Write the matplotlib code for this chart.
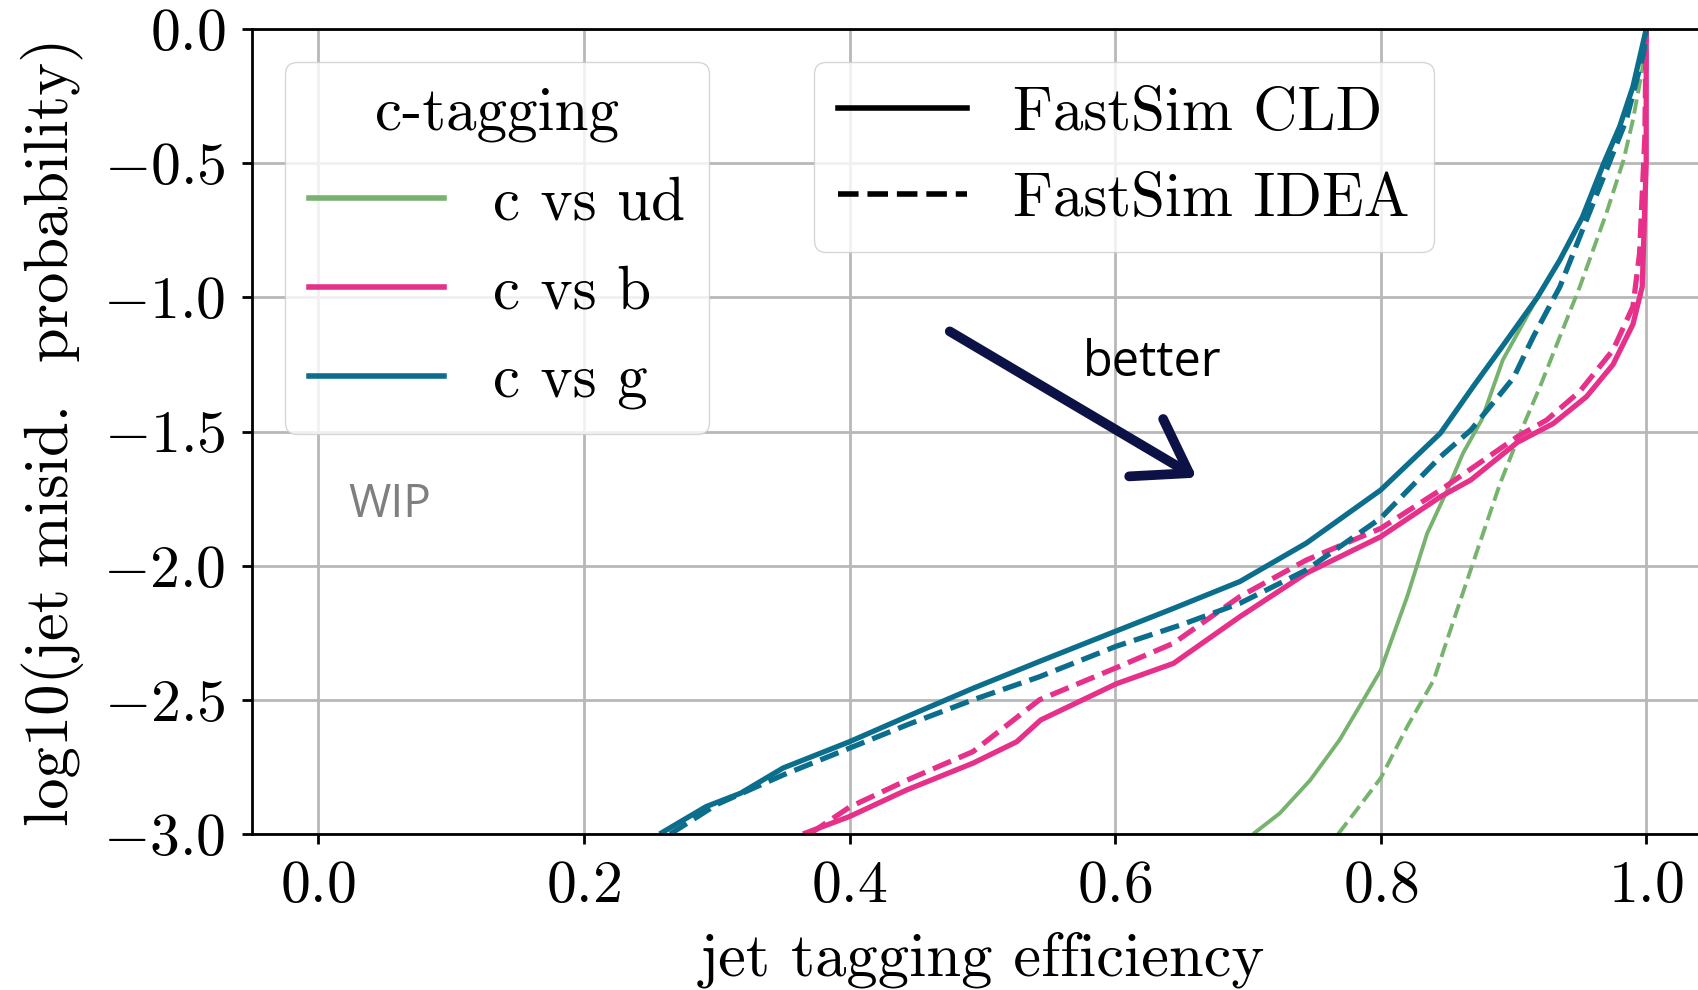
import matplotlib
matplotlib.use("Agg")
from matplotlib import pyplot as plt
from matplotlib.lines import Line2D

plt.rcParams["font.family"] = "serif"
plt.rcParams["font.serif"] = ["cmr10"]
plt.rcParams["mathtext.fontset"] = "cm"
plt.rcParams["axes.formatter.use_mathtext"] = True
plt.rcParams["axes.unicode_minus"] = True

# ROC curves: efficiency vs log10(misid), CLD (solid) and IDEA (dashed)
ud_cld_eff = [0.704, 0.724, 0.747, 0.769, 0.787, 0.800, 0.820, 0.835, 0.850, 0.862, 0.876, 0.892, 0.918, 0.935, 0.952, 0.968, 0.980, 0.990, 1.0]
ud_cld_mis = [-3.0, -2.923, -2.799, -2.65, -2.5, -2.39, -2.115, -1.88, -1.72, -1.581, -1.457, -1.233, -1.0, -0.86, -0.70, -0.50, -0.36, -0.22, 0.0]
ud_idea_eff = [0.768, 0.782, 0.800, 0.820, 0.840, 0.855, 0.872, 0.890, 0.905, 0.920, 0.935, 0.950, 0.970, 0.983, 0.990, 0.997, 1.0]
ud_idea_mis = [-3.0, -2.91, -2.792, -2.60, -2.426, -2.203, -1.954, -1.693, -1.506, -1.333, -1.146, -0.96, -0.686, -0.487, -0.338, -0.152, 0.0]

b_cld_eff = [0.365, 0.400, 0.443, 0.493, 0.526, 0.544, 0.601, 0.644, 0.694, 0.744, 0.800, 0.845, 0.868, 0.903, 0.930, 0.955, 0.975, 0.990, 0.997, 1.0, 1.0]
b_cld_mis = [-3.0, -2.935, -2.836, -2.736, -2.656, -2.575, -2.44, -2.364, -2.19, -2.028, -1.892, -1.743, -1.680, -1.54, -1.47, -1.37, -1.25, -1.10, -0.96, -0.5, 0.0]
b_idea_eff = [0.370, 0.400, 0.443, 0.493, 0.543, 0.601, 0.644, 0.694, 0.744, 0.800, 0.845, 0.903, 0.925, 0.950, 0.975, 0.990, 0.995, 0.999, 1.0]
b_idea_mis = [-3.0, -2.90, -2.80, -2.693, -2.50, -2.38, -2.289, -2.115, -1.979, -1.861, -1.718, -1.519, -1.457, -1.35, -1.196, -1.034, -0.836, -0.4, 0.0]

g_cld_eff = [0.257, 0.292, 0.318, 0.350, 0.400, 0.443, 0.493, 0.544, 0.601, 0.644, 0.694, 0.744, 0.800, 0.845, 0.870, 0.892, 0.918, 0.935, 0.952, 0.968, 0.980, 0.990, 1.0]
g_cld_mis = [-3.0, -2.898, -2.848, -2.754, -2.656, -2.563, -2.457, -2.355, -2.243, -2.159, -2.059, -1.916, -1.718, -1.506, -1.33, -1.18, -1.0, -0.86, -0.70, -0.50, -0.363, -0.214, 0.0]
g_idea_eff = [0.265, 0.300, 0.350, 0.400, 0.445, 0.493, 0.543, 0.601, 0.650, 0.694, 0.744, 0.800, 0.845, 0.868, 0.900, 0.915, 0.935, 0.953, 0.970, 0.985, 0.998, 1.0]
g_idea_mis = [-3.0, -2.89, -2.78, -2.68, -2.59, -2.50, -2.414, -2.30, -2.22, -2.14, -2.016, -1.823, -1.594, -1.494, -1.30, -1.146, -0.96, -0.736, -0.525, -0.338, -0.09, 0.0]

labels = ["c vs ud", "c vs b", "c vs g"]
colors = ["#77b36f", "#e6308a", "#0b6e8c"]
widths = [2.8, 3.8, 3.8]
curves = [
    (ud_cld_eff, ud_cld_mis, ud_idea_eff, ud_idea_mis),
    (b_cld_eff, b_cld_mis, b_idea_eff, b_idea_mis),
    (g_cld_eff, g_cld_mis, g_idea_eff, g_idea_mis),
]

fig = plt.figure(figsize=(16.98, 9.9), dpi=100)
ax = fig.add_axes([0.1484, 0.1576, 0.8602, 0.8129])

for (xc, yc, xi, yi), c, lw in zip(curves, colors, widths):
    ax.plot(xc, yc, color=c, lw=lw, solid_capstyle="butt")
    ax.plot(xi, yi, color=c, lw=lw, ls="--")

ax.set_xlim(-0.05, 1.05)
ax.set_ylim(-3.0, 0.0)
ax.set_xticks([0.0, 0.2, 0.4, 0.6, 0.8, 1.0])
ax.set_yticks([0.0, -0.5, -1.0, -1.5, -2.0, -2.5, -3.0])
ax.grid(True, color="#b8b8b8", lw=2)
ax.set_axisbelow(True)
for s in ax.spines.values():
    s.set_linewidth(2)
ax.tick_params(labelsize=43, length=7, width=2, pad=12)

ax.set_xlabel("jet tagging efficiency", fontsize=45)
ax.xaxis.set_label_coords(0.5, -0.121)
ax.set_ylabel("log10(jet misid.  probability)", fontsize=45, labelpad=14)

leg1_handles = [Line2D([], [], color=c, lw=4) for c in colors]
leg1 = ax.legend(leg1_handles, labels, title="c-tagging", fontsize=44, title_fontsize=44,
                 loc="upper left", bbox_to_anchor=(0.1678, 0.9374), bbox_transform=fig.transFigure,
                 borderaxespad=0, handlelength=2.2, handletextpad=0.8, labelspacing=0.55,
                 edgecolor="#cccccc", framealpha=0.8)
ax.add_artist(leg1)

leg2_handles = [Line2D([], [], color="black", lw=4),
                Line2D([], [], color="black", lw=4, ls="--")]
ax.legend(leg2_handles, ["FastSim CLD", "FastSim IDEA"], fontsize=44,
          loc="upper left", bbox_to_anchor=(0.4794, 0.9374), bbox_transform=fig.transFigure,
          borderaxespad=0, handlelength=2.1, handletextpad=0.75, labelspacing=0.5,
          edgecolor="#cccccc", framealpha=0.8)

ax.annotate("", xy=(0.6615, -1.6716), xytext=(0.4755, -1.1265),
            arrowprops=dict(arrowstyle="->,head_length=0.9,head_width=0.6", color="#0c1146",
                            lw=7, mutation_scale=40, shrinkA=0, shrinkB=0, capstyle="round"))
ax.text(0.576, -1.2436, "better", fontsize=35, family="Open Sans", va="center", ha="left", color="black")
ax.text(0.0228, -1.7726, "WIP", fontsize=33, family="Open Sans", va="center", ha="left", color="#7f7f7f")

fig.savefig("out.png", dpi=100)
